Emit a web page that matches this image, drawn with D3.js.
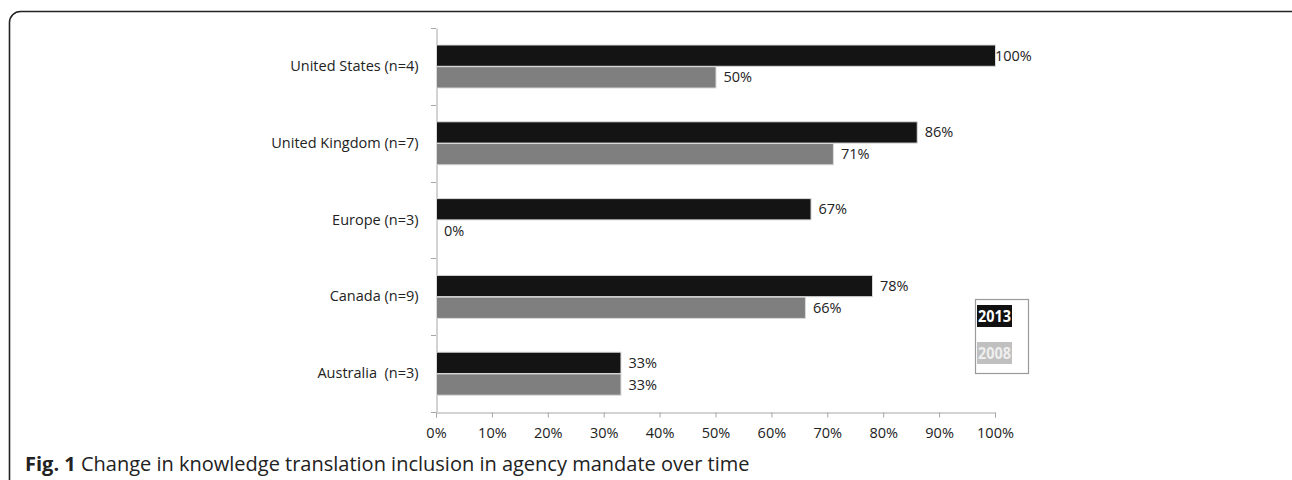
<!DOCTYPE html>
<html><head><meta charset="utf-8">
<script src="https://cdn.jsdelivr.net/npm/d3@7"></script>
<style>body{margin:0;background:#fff}svg{display:block}text{font-family:"Open Sans",sans-serif}</style>
</head><body>
<svg id="c" width="1292" height="480"></svg>
<script>
const categories = ["United States (n=4)", "United Kingdom (n=7)", "Europe (n=3)", "Canada (n=9)", "Australia  (n=3)"];
const series2013 = [100, 86, 67, 78, 33];
const series2008 = [50, 71, 0, 66, 33];
const seriesNames = ["2013", "2008"];
const tickValues = [0, 10, 20, 30, 40, 50, 60, 70, 80, 90, 100];
const caption = ["Fig. 1", " Change in knowledge translation inclusion in agency mandate over time"];

const svg = d3.select("#c");
// frame
svg.append("rect").attr("x", 9.5).attr("y", 11.5).attr("width", 1300).attr("height", 500)
  .attr("rx", 11).attr("fill", "none").attr("stroke", "#222").attr("stroke-width", 1.6);

const x = d3.scaleLinear().domain([0, 100]).range([436, 995]);
const y = d3.scaleBand().domain(categories).range([28, 412]).paddingInner(0).paddingOuter(0);
const inner = d3.scaleBand().domain(seriesNames).range([17, 60]).paddingInner(0.02).paddingOuter(0);
const colors = {"2013": "#141414", "2008": "#7f7f7f"};
const data = categories.map((c, i) => ({cat: c, vals: [{k: "2013", v: series2013[i]}, {k: "2008", v: series2008[i]}]}));

const fs = 14.5;
// x axis
const xAxis = d3.axisBottom(x).tickValues(tickValues).tickFormat(d => d + "%").tickSize(5).tickPadding(10);
const gx = svg.append("g").attr("transform", "translate(0,412.5)").call(xAxis);
gx.select(".domain").attr("stroke", "#a6a6a6");
gx.selectAll(".tick line").attr("stroke", "#a6a6a6");
gx.selectAll(".tick text").attr("font-size", fs).attr("fill", "#222").attr("font-family", "Open Sans");

// y axis
const yAxis = d3.axisLeft(y).tickSize(0).tickPadding(18);
const gy = svg.append("g").attr("transform", "translate(436.5,0)").call(yAxis);
gy.select(".domain").attr("stroke", "#a6a6a6");
gy.selectAll(".tick text").attr("font-size", fs).attr("fill", "#222").attr("font-family", "Open Sans").style("white-space", "pre");
// band boundary ticks
const bounds = categories.map(c => y(c)).concat([y.range()[1]]);
svg.append("g").selectAll("line").data(bounds).join("line")
  .attr("x1", 431).attr("x2", 436).attr("y1", d => Math.round(d) + 0.5).attr("y2", d => Math.round(d) + 0.5)
  .attr("stroke", "#a6a6a6");

// bars
const g = svg.append("g").selectAll("g").data(data).join("g").attr("transform", d => `translate(0,${y(d.cat)})`);
g.selectAll("rect").data(d => d.vals).join("rect")
  .attr("x", x(0) + 0.5).attr("y", d => inner(d.k))
  .attr("width", d => Math.max(0, x(d.v) - x(0)))
  .attr("height", inner.bandwidth())
  .attr("fill", d => colors[d.k]).attr("stroke", d => d.v > 0 ? "#d9d9d9" : "none").attr("stroke-width", 1);
g.selectAll("text").data(d => d.vals).join("text")
  .attr("x", d => x(d.v) + (d.v === 100 ? 0 : 8))
  .attr("y", d => inner(d.k) + inner.bandwidth() / 2 + 5)
  .attr("font-size", fs).attr("fill", "#222")
  .text(d => d.v + "%");

// legend
const lg = svg.append("g");
lg.append("rect").attr("x", 975.5).attr("y", 299.5).attr("width", 53).attr("height", 74)
  .attr("fill", "#fff").attr("stroke", "#9a9a9a").attr("stroke-width", 1.2);
const legItems = [{k: "2013", bg: "#111", fg: "#fff"}, {k: "2008", bg: "#c0c0c0", fg: "#eeeeee"}];
legItems.forEach((it, i) => {
  const yy = 305 + i * 37;
  lg.append("rect").attr("x", 977).attr("y", yy).attr("width", 35).attr("height", 22).attr("fill", it.bg);
  lg.append("text").attr("x", 994.5).attr("y", yy + 16.5).attr("text-anchor", "middle")
    .attr("font-family", "Liberation Serif").attr("font-weight", "bold").attr("font-size", 15.5)
    .attr("textLength", 33).attr("lengthAdjust", "spacingAndGlyphs")
    .attr("fill", it.fg).text(it.k);
});

// caption
const cap = svg.append("text").attr("x", 25).attr("y", 471).attr("font-size", 20).attr("fill", "#222");
cap.append("tspan").attr("font-weight", "bold").text(caption[0]);
cap.append("tspan").style("white-space", "pre").text(caption[1]);
</script>
</body></html>
